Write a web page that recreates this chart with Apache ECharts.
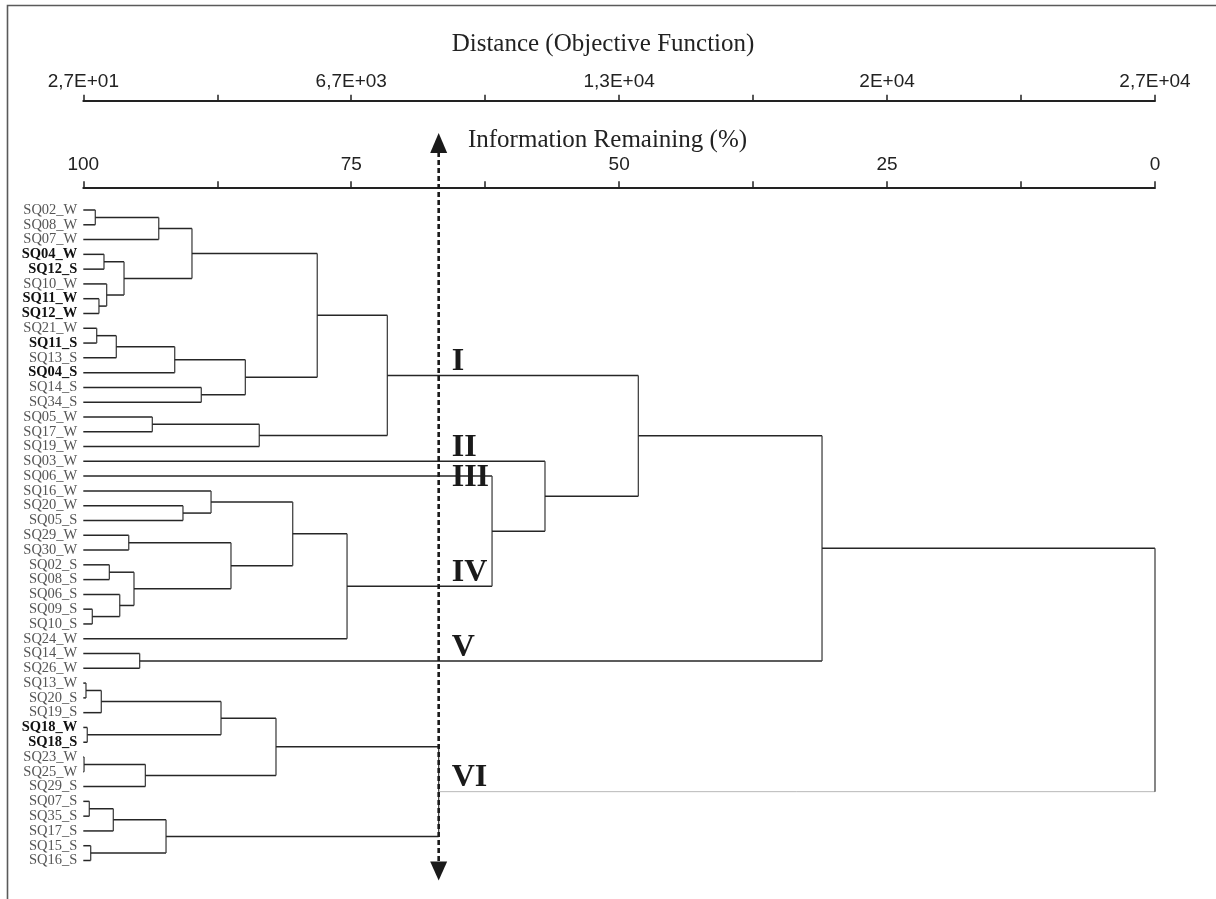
<!DOCTYPE html>
<html>
<head>
<meta charset="utf-8">
<title>Dendrogram</title>
<script src="https://cdn.jsdelivr.net/npm/echarts@6.0.0/dist/echarts.min.js"></script>
<style>
html, body { margin: 0; padding: 0; background: #fff; }
#dendro { width: 1216px; height: 899px; }
</style>
</head>
<body>
<div id="dendro"></div>
<script>
// leaves, top to bottom
var leaves = ['SQ02_W', 'SQ08_W', 'SQ07_W', 'SQ04_W', 'SQ12_S', 'SQ10_W', 'SQ11_W', 'SQ12_W',
    'SQ21_W', 'SQ11_S', 'SQ13_S', 'SQ04_S', 'SQ14_S', 'SQ34_S', 'SQ05_W', 'SQ17_W', 'SQ19_W',
    'SQ03_W', 'SQ06_W', 'SQ16_W', 'SQ20_W', 'SQ05_S', 'SQ29_W', 'SQ30_W', 'SQ02_S', 'SQ08_S',
    'SQ06_S', 'SQ09_S', 'SQ10_S', 'SQ24_W', 'SQ14_W', 'SQ26_W', 'SQ13_W', 'SQ20_S', 'SQ19_S',
    'SQ18_W', 'SQ18_S', 'SQ23_W', 'SQ25_W', 'SQ29_S', 'SQ07_S', 'SQ35_S', 'SQ17_S', 'SQ15_S', 'SQ16_S'];
var boldLeaves = ['SQ04_W', 'SQ12_S', 'SQ11_W', 'SQ12_W', 'SQ11_S', 'SQ04_S', 'SQ18_W', 'SQ18_S'];

// [node, child a, child b, information remaining (%)]
var merges = [
    ['n1', 'SQ02_W', 'SQ08_W', 98.88],
    ['n2', 'n1', 'SQ07_W', 92.96],
    ['n3', 'SQ04_W', 'SQ12_S', 98.07],
    ['n4', 'SQ11_W', 'SQ12_W', 98.54],
    ['n5', 'SQ10_W', 'n4', 97.82],
    ['n6', 'n3', 'n5', 96.20],
    ['n7', 'n2', 'n6', 89.86],
    ['n8', 'SQ21_W', 'SQ11_S', 98.75],
    ['n9', 'n8', 'SQ13_S', 96.92],
    ['n10', 'n9', 'SQ04_S', 91.47],
    ['n11', 'SQ14_S', 'SQ34_S', 88.99],
    ['n12', 'n10', 'n11', 84.88],
    ['n13', 'n7', 'n12', 78.17],
    ['n14', 'SQ05_W', 'SQ17_W', 93.56],
    ['n15', 'n14', 'SQ19_W', 83.58],
    ['cI', 'n13', 'n15', 71.63],
    ['n16', 'SQ20_W', 'SQ05_S', 90.70],
    ['n17', 'SQ16_W', 'n16', 88.08],
    ['n18', 'SQ29_W', 'SQ30_W', 95.76],
    ['n19', 'SQ02_S', 'SQ08_S', 97.57],
    ['n20', 'SQ09_S', 'SQ10_S', 99.16],
    ['n21', 'SQ06_S', 'n20', 96.60],
    ['n22', 'n19', 'n21', 95.27],
    ['n23', 'n18', 'n22', 86.22],
    ['n24', 'n17', 'n23', 80.46],
    ['cIV', 'n24', 'SQ24_W', 75.39],
    ['cIII_IV', 'SQ06_W', 'cIV', 61.86],
    ['cII_IV', 'SQ03_W', 'cIII_IV', 56.92],
    ['cI_IV', 'cI', 'cII_IV', 48.21],
    ['cV', 'SQ14_W', 'SQ26_W', 94.74],
    ['cI_V', 'cI_IV', 'cV', 31.07],
    ['n25', 'SQ13_W', 'SQ20_S', 99.75],
    ['n26', 'n25', 'SQ19_S', 98.32],
    ['n27', 'SQ18_W', 'SQ18_S', 99.63],
    ['n28', 'n26', 'n27', 87.15],
    ['n29', 'SQ23_W', 'SQ25_W', 99.93],
    ['n30', 'n29', 'SQ29_S', 94.21],
    ['n31', 'n28', 'n30', 82.02],
    ['n32', 'SQ07_S', 'SQ35_S', 99.44],
    ['n33', 'n32', 'SQ17_S', 97.20],
    ['n34', 'SQ15_S', 'SQ16_S', 99.31],
    ['n35', 'n33', 'n34', 92.28],
    ['cVI', 'n31', 'n35', 66.84],
    ['root', 'cI_V', 'cVI', 0]
];

var tickValues = [100, 75, 50, 25, 0];
var infoTickLabels = ['100', '75', '50', '25', '0'];
var distTickLabels = ['2,7E+01', '6,7E+03', '1,3E+04', '2E+04', '2,7E+04'];

var cutLevel = 66.84;
var clusterNames = ['I', 'II', 'III', 'IV', 'V', 'VI'];
var clusterNodes = ['cI', 'SQ03_W', 'SQ06_W', 'cIV', 'cV', 'cVI'];
var lightNodes = ['cVI'];

var chart = echarts.init(document.getElementById('dendro'));

// positions of leaves / nodes
var nodeY = {}, nodeLevel = {};
leaves.forEach(function (name, i) {
    nodeY[name] = i;
    nodeLevel[name] = 100;
});
var linkData = merges.map(function (m) {
    var a = m[1], b = m[2];
    nodeY[m[0]] = (nodeY[a] + nodeY[b]) / 2;
    nodeLevel[m[0]] = m[3];
    return [m[3], nodeY[a], nodeY[b], nodeLevel[a], nodeLevel[b],
        lightNodes.indexOf(a) >= 0 ? 1 : 0, lightNodes.indexOf(b) >= 0 ? 1 : 0];
});
var clusterData = clusterNames.map(function (n, i) {
    return [cutLevel, nodeY[clusterNodes[i]], i];
});

function seg(p, q, light) {
    return {
        type: 'line',
        shape: { x1: p[0], y1: p[1], x2: q[0], y2: q[1] },
        style: { stroke: light ? '#b8b8b8' : '#262626', lineWidth: light ? 1 : 1.5 }
    };
}

function renderLink(params, api) {
    var h = api.value(0);
    var a0 = api.coord([api.value(3), api.value(1)]);
    var a1 = api.coord([h, api.value(1)]);
    var b0 = api.coord([api.value(4), api.value(2)]);
    var b1 = api.coord([h, api.value(2)]);
    var vert = seg(a1, b1, false);
    vert.style.stroke = '#444';
    vert.style.lineWidth = 1.3;
    return {
        type: 'group',
        children: [seg(a0, a1, api.value(5)), seg(b0, b1, api.value(6)), vert]
    };
}

function renderCut(params, api) {
    var x = api.coord([api.value(0), 0])[0];
    var top = params.coordSys.y, bottom = params.coordSys.y + params.coordSys.height;
    return {
        type: 'group',
        children: [
            {
                type: 'line',
                shape: { x1: x, y1: top - 58, x2: x, y2: bottom + 2 },
                style: { stroke: '#1a1a1a', lineWidth: 2.6, lineDash: [5, 3] }
            },
            {
                type: 'polygon',
                shape: { points: [[x, top - 77], [x - 8.5, top - 57], [x + 8.5, top - 57]] },
                style: { fill: '#1a1a1a' }
            },
            {
                type: 'polygon',
                shape: { points: [[x, bottom + 20], [x - 8.5, bottom + 1], [x + 8.5, bottom + 1]] },
                style: { fill: '#1a1a1a' }
            }
        ]
    };
}

function renderCluster(params, api) {
    var p = api.coord([api.value(0), api.value(1)]);
    var name = clusterNames[api.value(2)];
    return {
        type: 'text',
        x: p[0] + 13,
        y: p[1] + (name === 'III' ? 2 : -13.5),
        style: {
            text: name,
            font: 'bold 32px "Liberation Serif"',
            fill: '#1a1a1a',
            align: 'left',
            verticalAlign: 'middle'
        }
    };
}

function tickFormatter(labels) {
    return function (v) {
        var i = tickValues.indexOf(v);
        return i >= 0 ? labels[i] : '';
    };
}

var topAxisBase = {
    type: 'value',
    position: 'top',
    min: 0,
    max: 100,
    interval: 12.5,
    inverse: true,
    axisLine: { show: true, onZero: false, lineStyle: { color: '#222', width: 2 } },
    axisTick: { show: true, length: 6, lineStyle: { color: '#222', width: 1.5 } },
    splitLine: { show: false }
};

var option = {
    backgroundColor: '#fff',
    animation: false,
    grid: { left: 83.3, top: 210, width: 1071.7, height: 650.5, outerBoundsMode: 'none' },
    xAxis: [
        echarts.util.merge({
            offset: 22.7,
            axisLabel: {
                margin: 13, fontFamily: 'Liberation Sans', fontSize: 19, color: '#222',
                showMinLabel: true, showMaxLabel: true, formatter: tickFormatter(infoTickLabels)
            }
        }, topAxisBase),
        echarts.util.merge({
            offset: 109.3,
            axisLabel: {
                margin: 9, fontFamily: 'Liberation Sans', fontSize: 19, color: '#222',
                showMinLabel: true, showMaxLabel: true, formatter: tickFormatter(distTickLabels)
            }
        }, topAxisBase)
    ],
    yAxis: [
        {
            type: 'value',
            position: 'left',
            show: false,
            min: 0,
            max: leaves.length - 1,
            inverse: true,
            axisLine: { onZero: false },
            splitLine: { show: false }
        },
        {
            type: 'category',
            position: 'left',
            data: leaves,
            inverse: true,
            boundaryGap: false,
            axisLine: { show: false, onZero: false },
            axisTick: { show: false },
            splitLine: { show: false },
            axisLabel: {
                interval: 0,
                margin: 6,
                formatter: function (v) {
                    return boldLeaves.indexOf(v) >= 0 ? '{b|' + v + '}' : '{n|' + v + '}';
                },
                rich: {
                    n: { fontFamily: 'Liberation Serif', fontSize: 14.5, color: '#555' },
                    b: { fontFamily: 'Liberation Serif', fontSize: 14.5, fontWeight: 'bold', color: '#111' }
                }
            }
        }
    ],
    graphic: [
        {
            type: 'polyline',
            silent: true,
            shape: { points: [[7.5, 899], [7.5, 5.5], [1216, 5.5]] },
            style: { stroke: '#5a5a5a', lineWidth: 1.6, fill: null }
        },
        {
            type: 'text',
            x: 603,
            y: 44,
            style: {
                text: 'Distance (Objective Function)',
                font: '25px "Liberation Serif"',
                fill: '#222',
                align: 'center',
                verticalAlign: 'middle'
            }
        },
        {
            type: 'text',
            x: 607.5,
            y: 140,
            style: {
                text: 'Information Remaining (%)',
                font: '25px "Liberation Serif"',
                fill: '#222',
                align: 'center',
                verticalAlign: 'middle'
            }
        }
    ],
    series: [
        {
            type: 'custom',
            name: 'links',
            xAxisIndex: 0,
            yAxisIndex: 0,
            silent: true,
            renderItem: renderLink,
            encode: { x: 0, y: 1 },
            data: linkData
        },
        {
            type: 'custom',
            name: 'cut',
            xAxisIndex: 0,
            yAxisIndex: 0,
            silent: true,
            renderItem: renderCut,
            encode: { x: 0, y: 1 },
            data: [[cutLevel, 0]]
        },
        {
            type: 'custom',
            name: 'clusters',
            xAxisIndex: 0,
            yAxisIndex: 0,
            silent: true,
            renderItem: renderCluster,
            encode: { x: 0, y: 1 },
            data: clusterData
        }
    ]
};

chart.setOption(option);
window.addEventListener('resize', function () {
    chart.resize();
});
</script>
</body>
</html>
